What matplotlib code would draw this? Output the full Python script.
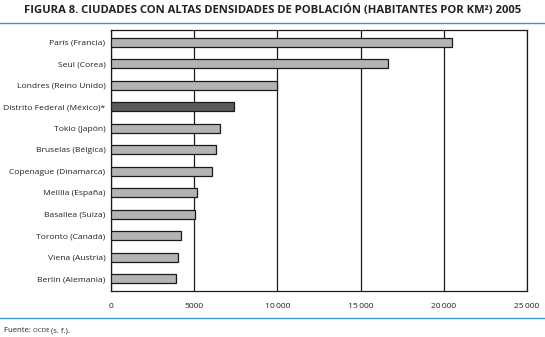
import matplotlib.pyplot as plt
import numpy as np
from matplotlib.lines import Line2D

ciudades = ["París (Francia)", "Seul (Corea)", "Londres (Reino Unido)",
            "Distrito Federal (México)*", "Tokio (Japón)", "Bruselas (Bélgica)",
            "Copenague (Dinamarca)", "Melilla (España)", "Basallea (Suiza)",
            "Toronto (Canadá)", "Viena (Austria)", "Berlín (Alemania)"]
densidad = [20500, 16650, 9980, 7400, 6550, 6330, 6070, 5170, 5050, 4210, 4030, 3880]
ticks = [0, 5000, 10000, 15000, 20000, 25000]
tick_labels = ["0", "5000", "10\u2009000", "15\u2009000", "20\u2009000", "25\u2009000"]

gris = "#b4b4b6"
gris_oscuro = "#5b5b5d"
turquesa = "#3d9cb9"

plt.rcParams['font.family'] = ['Open Sans', 'DejaVu Sans']

fig = plt.figure(figsize=(5.45, 3.37), dpi=100)
ax = fig.add_axes([111 / 545, 1 - 291 / 337, 416 / 545, 261 / 337])

y = np.arange(len(ciudades))
colores = [gris_oscuro if "México" in c else gris for c in ciudades]
ax.barh(y, densidad, height=0.43, color=colores, edgecolor="#1a1a1a",
        linewidth=0.9, zorder=3)

ax.set_xlim(0, 25000)
ax.set_ylim(len(ciudades) - 0.43, -0.57)
ax.set_xticks(ticks)
ax.set_xticklabels(tick_labels, fontsize=6.1, color="#222222")
ax.set_yticks(y)
ax.set_yticklabels(ciudades, fontsize=6.1, color="#222222")
ax.tick_params(length=0, pad=4)
ax.tick_params(axis="x", pad=9)
ax.grid(axis="x", color="#1a1a1a", linewidth=0.9, zorder=1)
for s in ax.spines.values():
    s.set_color("#1a1a1a")
    s.set_linewidth(0.9)

fig.text(0.5, 1 - 10 / 337, "FIGURA 8. CIUDADES CON ALTAS DENSIDADES DE POBLACIÓN (HABITANTES POR KM²) 2005",
         ha="center", va="center", fontsize=8.1, fontweight="bold", color="#222222")

# líneas turquesa de cabecera y pie
for yy in (23, 318):
    fig.add_artist(Line2D([0, 1], [1 - yy / 337] * 2, color=turquesa, linewidth=1.0))

# fuente, con OCDE en versalitas (más pequeña)
renderer = fig.canvas.get_renderer()
x = 4
for txt, fs in [("Fuente: ", 5.6), ("OCDE ", 4.4), ("(s. f.).", 5.6)]:
    t = fig.text(x / 545, 1 - 331 / 337, txt, ha="left", va="center",
                 fontsize=fs, color="#222222")
    x += t.get_window_extent(renderer).width

fig.savefig("out.png", dpi=100)
